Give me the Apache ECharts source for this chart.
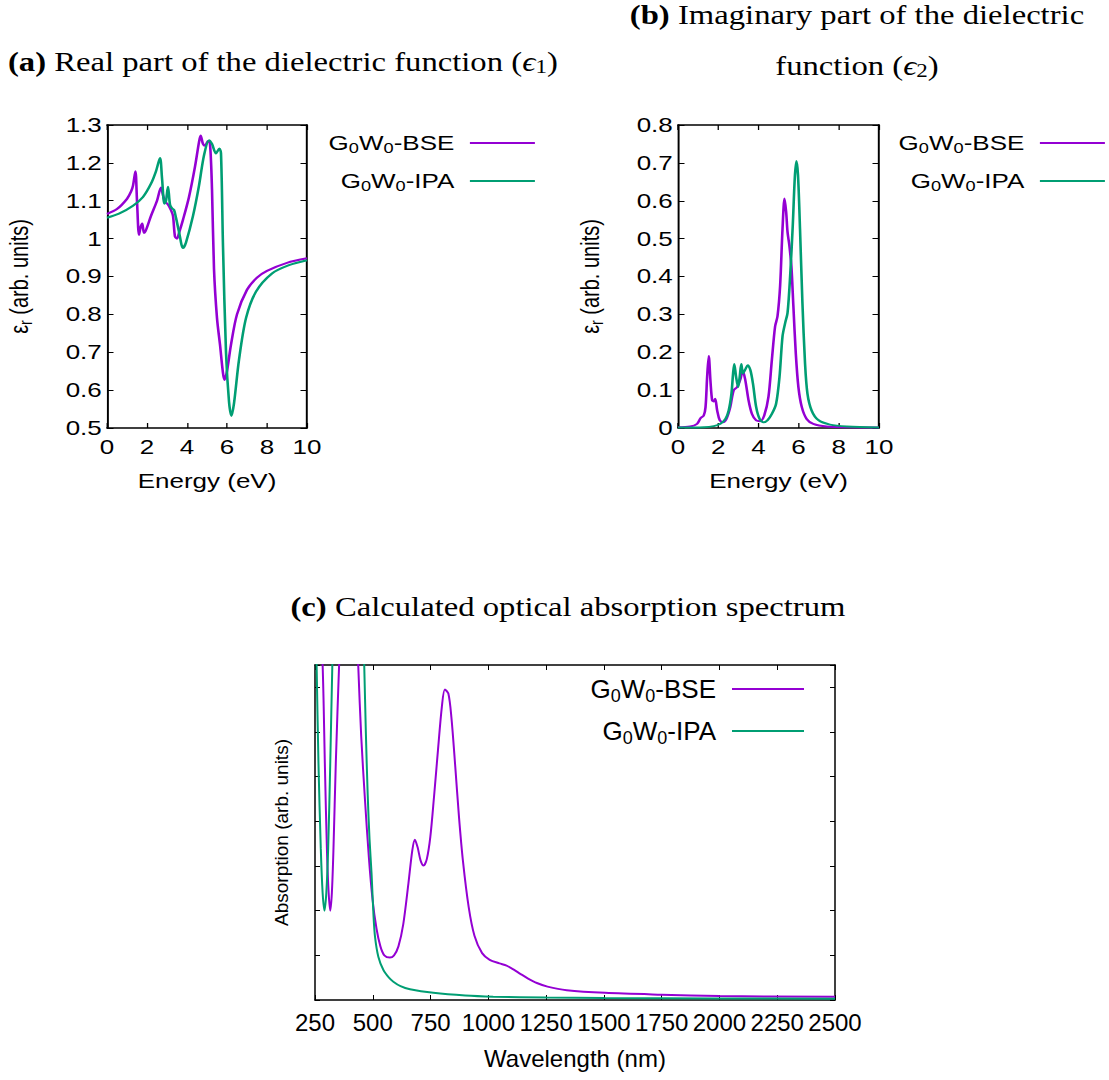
<!DOCTYPE html>
<html><head><meta charset="utf-8">
<script src="https://cdn.jsdelivr.net/npm/echarts@6/dist/echarts.min.js"></script>
<style>
html,body{margin:0;padding:0;background:#fff;}
#bottom{position:absolute;left:0;top:0;width:1109px;height:1080px;}
#top{position:absolute;left:0;top:0;height:520px;transform-origin:0 0;}
</style></head><body>
<div id="bottom"></div><div id="top"></div>
<script>
// ---------------- DATA ----------------
const seriesNames = ['G0W0-BSE', 'G0W0-IPA'];
const seriesColors = ['#9400D3', '#009E73'];

// (a) real part of dielectric function
const energyA_BSE = [0, 0.5, 1.0, 1.2, 1.3, 1.42, 1.5, 1.6, 1.68, 1.76, 1.85, 1.93, 2.2, 2.5, 2.7, 2.8, 2.9, 3.05, 3.2, 3.3, 3.4, 3.5, 3.6, 3.8, 4.1, 4.4, 4.6, 4.68, 4.8, 4.9, 5.05, 5.15, 5.25, 5.35, 5.5, 5.65, 5.8, 5.88, 6.0, 6.2, 6.5, 7.0, 7.5, 8.0, 9.0, 10];
const eps1_BSE = [1.065, 1.078, 1.105, 1.124, 1.14, 1.178, 1.10, 1.01, 1.03, 1.04, 1.015, 1.02, 1.06, 1.10, 1.135, 1.115, 1.098, 1.09, 1.075, 1.06, 1.005, 1.0, 1.015, 1.05, 1.11, 1.19, 1.255, 1.272, 1.25, 1.245, 1.258, 1.25, 1.13, 0.92, 0.79, 0.72, 0.645, 0.627, 0.65, 0.72, 0.80, 0.865, 0.897, 0.915, 0.936, 0.948];
const energyA_IPA = [0, 0.6, 1.3, 1.8, 2.2, 2.45, 2.65, 2.75, 2.87, 2.95, 3.05, 3.15, 3.25, 3.35, 3.45, 3.6, 3.8, 3.95, 4.3, 4.6, 4.85, 5.1, 5.25, 5.45, 5.62, 5.7, 5.8, 5.95, 6.1, 6.22, 6.35, 6.6, 6.95, 7.45, 8.25, 9.1, 10];
const eps1_IPA = [1.055, 1.066, 1.087, 1.11, 1.145, 1.178, 1.213, 1.16, 1.092, 1.10, 1.137, 1.09, 1.08, 1.076, 1.055, 1.018, 0.975, 0.99, 1.06, 1.14, 1.22, 1.26, 1.25, 1.225, 1.238, 1.225, 0.98, 0.70, 0.57, 0.532, 0.565, 0.68, 0.79, 0.86, 0.908, 0.93, 0.943];

// (b) imaginary part of dielectric function
const energyB_BSE = [0, 0.6, 0.95, 1.12, 1.28, 1.37, 1.45, 1.53, 1.62, 1.7, 1.78, 1.85, 1.95, 2.08, 2.24, 2.41, 2.6, 2.77, 2.94, 3.1, 3.22, 3.35, 3.51, 3.68, 3.89, 4.09, 4.29, 4.5, 4.67, 4.83, 4.95, 5.08, 5.2, 5.3, 5.38, 5.45, 5.54, 5.64, 5.74, 5.86, 5.99, 6.16, 6.4, 6.73, 7.4, 8.5, 10];
const eps2_BSE = [0.002, 0.004, 0.011, 0.026, 0.033, 0.055, 0.135, 0.19, 0.12, 0.073, 0.07, 0.077, 0.046, 0.02, 0.015, 0.024, 0.055, 0.1, 0.108, 0.128, 0.152, 0.126, 0.073, 0.037, 0.02, 0.018, 0.033, 0.082, 0.18, 0.268, 0.295, 0.375, 0.526, 0.606, 0.571, 0.517, 0.482, 0.428, 0.322, 0.197, 0.108, 0.055, 0.024, 0.011, 0.004, 0.002, 0.001];
const energyB_IPA = [0, 1.3, 1.78, 2.11, 2.36, 2.52, 2.66, 2.74, 2.8, 2.89, 2.99, 3.07, 3.15, 3.23, 3.35, 3.47, 3.6, 3.73, 3.89, 4.06, 4.26, 4.46, 4.67, 4.88, 5.05, 5.2, 5.33, 5.45, 5.58, 5.71, 5.81, 5.89, 5.97, 6.07, 6.19, 6.32, 6.44, 6.65, 6.98, 7.56, 8.4, 10];
const eps2_IPA = [0.001, 0.002, 0.005, 0.011, 0.024, 0.046, 0.091, 0.144, 0.169, 0.135, 0.108, 0.135, 0.169, 0.144, 0.155, 0.166, 0.153, 0.117, 0.055, 0.024, 0.015, 0.021, 0.037, 0.064, 0.135, 0.242, 0.277, 0.304, 0.402, 0.535, 0.66, 0.705, 0.668, 0.526, 0.331, 0.171, 0.091, 0.046, 0.021, 0.009, 0.004, 0.001];

// (c) optical absorption spectrum (arb. units; values above the frame are clipped)
const wavelength_BSE = [250, 265, 283, 293, 302, 309, 316, 323, 330, 340, 355, 370, 400, 420, 437, 450, 466, 483, 499, 516, 533, 550, 574, 592, 611, 632, 654, 671, 682, 694, 707, 720, 734, 749, 765, 782, 799, 812, 827, 840, 857, 873, 890, 915, 940, 973, 1006, 1048, 1079, 1110, 1140, 1172, 1210, 1256, 1339, 1505, 1750, 2000, 2500];
const absorption_BSE = [11, 9.5, 7.5, 5.2, 3.3, 2.4, 2.0, 2.4, 3.4, 5.3, 7.6, 9.5, 11, 10, 7.5, 5.9, 4.5, 3.2, 2.25, 1.6, 1.2, 1.0, 0.95, 1.0, 1.2, 1.7, 2.6, 3.35, 3.59, 3.42, 3.12, 3.01, 3.16, 3.65, 4.55, 5.59, 6.57, 6.95, 6.86, 6.34, 5.22, 4.1, 3.12, 2.08, 1.44, 1.05, 0.9, 0.82, 0.77, 0.68, 0.58, 0.48, 0.38, 0.3, 0.22, 0.16, 0.12, 0.09, 0.07];
const wavelength_IPA = [250, 257, 265, 275, 283, 291, 299, 307, 316, 325, 340, 400, 450, 463, 470, 478, 486, 495, 503, 510, 524, 546, 570, 589, 620, 661, 762, 900, 1021, 1250, 1500, 2000, 2500];
const absorption_IPA = [9.5, 7.5, 5.3, 3.4, 2.4, 2.0, 2.4, 3.4, 5.3, 7.5, 10.5, 12, 10, 7.5, 6.0, 4.6, 3.6, 2.8, 1.9, 1.4, 0.97, 0.67, 0.5, 0.41, 0.31, 0.24, 0.16, 0.1, 0.075, 0.055, 0.045, 0.035, 0.03];

// tick values
const energyTicks = [0, 2, 4, 6, 8, 10];
const eps1Ticks = [0.5, 0.6, 0.7, 0.8, 0.9, 1.0, 1.1, 1.2, 1.3];
const eps2Ticks = [0, 0.1, 0.2, 0.3, 0.4, 0.5, 0.6, 0.7, 0.8];
const wavelengthTicks = [250, 500, 750, 1000, 1250, 1500, 1750, 2000, 2250, 2500];
const absorptionTicks = [0, 1, 2, 3, 4, 5, 6, 7];
const absorptionMax = 7.5;

// ---------------- HELPERS ----------------
const STRETCH = 1.3;           // panels (a),(b) are horizontally stretched in the reference
const W1 = 1109 / STRETCH;
const sx = v => v / STRETCH;
const FONT = '"Liberation Sans", Arial, sans-serif';
const SERIF = '"Liberation Serif", "Times New Roman", serif';

const pairs = (xs, ys) => xs.map((x, i) => [x, ys[i]]);
const step = t => +(t[1] - t[0]).toFixed(6);

function axisPair(kind, gridIndex, ticks, o) {
  const base = {
    gridIndex, type: 'value', min: ticks[0], max: (o.max !== undefined ? o.max : ticks[ticks.length - 1]),
    interval: step(ticks),
    axisLine: { show: true, onZero: false, lineStyle: { color: '#000', width: 1.5 } },
    axisTick: { show: true, inside: true, length: o.tickLen || 5, lineStyle: { color: '#000', width: 1 } },
    splitLine: { show: false }
  };
  const main = Object.assign({}, base, {
    position: kind === 'x' ? 'bottom' : 'left',
    axisLabel: o.labels === false ? { show: false } :
      { show: true, color: '#000', fontFamily: FONT, fontSize: o.fs, margin: o.margin,
        showMinLabel: true, showMaxLabel: true, hideOverlap: false,
        formatter: v => String(+v.toFixed(6)) },
    name: o.name, nameLocation: 'middle', nameGap: o.nameGap,
    nameTextStyle: { color: '#000', fontFamily: FONT, fontSize: o.nameFs, rich: o.nameRich }
  });
  const mirror = Object.assign({}, base, {
    position: kind === 'x' ? 'top' : 'right', axisLabel: { show: false }, name: ''
  });
  return [main, mirror];
}

function lineSeries(i, data, xi, yi) {
  return {
    type: 'line', name: seriesNames[i], data, xAxisIndex: xi, yAxisIndex: yi,
    symbol: 'none', smooth: 0.3, clip: true, animation: false, z: 3,
    lineStyle: { color: seriesColors[i], width: 2 }, itemStyle: { color: seriesColors[i] }
  };
}

// subscript rich styles: sub baseline lowered by `drop` px
function subRich(fs, drop, family, lineFactor) {
  const L = Math.round(fs * (lineFactor || 1.2));
  const f2 = Math.round(fs * 0.7);
  const l2 = L - 2 * drop - 0.7 * (fs - f2);
  return {
    n: { color: '#000', fontFamily: family, fontSize: fs, lineHeight: L },
    s: { color: '#000', fontFamily: family, fontSize: f2, lineHeight: l2, verticalAlign: 'bottom' },
    L
  };
}

function legendItem(i, right, top, fs, iconW, gap, drop) {
  const r = subRich(fs, drop, FONT);
  return {
    show: true, data: [seriesNames[i]], orient: 'vertical', right, top, align: 'right',
    padding: 0, itemGap: 0, itemWidth: iconW, itemHeight: 2, icon: 'rect', selectedMode: false,
    formatter: n => '{n|G}{s|0}{n|W}{s|0}{n|' + n.slice(4) + '}{g| }',
    textStyle: {
      color: '#000', fontFamily: FONT, fontSize: fs,
      rich: { n: r.n, s: r.s, g: { width: gap, fontSize: fs, lineHeight: r.L } }
    }
  };
}

const epsR = subRich(20, 3.5, FONT);
const epsNameRich = { n: epsR.n, s: epsR.s };

// ---------------- TOP CHART: panels (a) and (b) ----------------
const topEl = document.getElementById('top');
topEl.style.width = W1 + 'px';
topEl.style.transform = 'scaleX(' + STRETCH + ')';
const chart1 = echarts.init(topEl, null, { renderer: 'svg' });

const gridA = { left: sx(107), top: 125, width: sx(200), height: 303 };
const gridB = { left: sx(678), top: 125, width: sx(201), height: 303 };

const xA = axisPair('x', 0, energyTicks, { fs: 20, margin: 9, name: 'Energy (eV)', nameGap: 43, nameFs: 20 });
const yA = axisPair('y', 0, eps1Ticks, { fs: 20, margin: 4, name: '{n|ε}{s|r}{n| (arb. units)}', nameGap: 56, nameFs: 20, nameRich: epsNameRich });
const xB = axisPair('x', 1, energyTicks, { fs: 20, margin: 9, name: 'Energy (eV)', nameGap: 43, nameFs: 20 });
const yB = axisPair('y', 1, eps2Ticks, { fs: 20, margin: 4, name: '{n|ε}{s|r}{n| (arb. units)}', nameGap: 56, nameFs: 20, nameRich: epsNameRich });

chart1.setOption({
  backgroundColor: 'transparent',
  animation: false,
  grid: [gridA, gridB],
  xAxis: [xA[0], xA[1], xB[0], xB[1]],
  yAxis: [yA[0], yA[1], yB[0], yB[1]],
  legend: [
    legendItem(0, W1 - sx(535), 133, 20, sx(65), 7, 3.5),
    legendItem(1, W1 - sx(535), 171, 20, sx(65), 7, 3.5),
    legendItem(0, W1 - sx(1105), 133, 20, sx(65), 7, 3.5),
    legendItem(1, W1 - sx(1105), 171, 20, sx(65), 7, 3.5)
  ],
  series: [
    lineSeries(0, pairs(energyA_BSE, eps1_BSE), 0, 0),
    lineSeries(1, pairs(energyA_IPA, eps1_IPA), 0, 0),
    lineSeries(0, pairs(energyB_BSE, eps2_BSE), 2, 2),
    lineSeries(1, pairs(energyB_IPA, eps2_IPA), 2, 2)
  ]
});

// ---------------- BOTTOM CHART: panel (c) + captions ----------------
const chart2 = echarts.init(document.getElementById('bottom'), null, { renderer: 'svg' });
const TFS = 27;
const TSCALE = 1.21;
const tr = subRich(TFS, 4, SERIF, 1.04);
const titleRich = {
  b: { fill: '#000', fontFamily: SERIF, fontSize: TFS, fontWeight: 'bold', lineHeight: tr.L },
  e: { fill: '#000', fontFamily: SERIF, fontSize: TFS, fontStyle: 'italic', lineHeight: tr.L },
  s: { fill: '#000', fontFamily: SERIF, fontSize: tr.s.fontSize, lineHeight: tr.s.lineHeight, verticalAlign: 'bottom' }
};
function caption(text, x, y, align) {
  return {
    type: 'text', x, y, scaleX: TSCALE, silent: true,
    style: {
      text, fill: '#000', fontFamily: SERIF, fontSize: TFS, lineHeight: tr.L,
      align, textAlign: align, verticalAlign: 'middle', textVerticalAlign: 'middle', rich: titleRich
    }
  };
}

const xC = axisPair('x', 0, wavelengthTicks, { fs: 24, margin: 10, name: 'Wavelength (nm)', nameGap: 46, nameFs: 24 });
const yC = axisPair('y', 0, absorptionTicks, { max: absorptionMax, labels: false, name: 'Absorption (arb. units)', nameGap: 24, nameFs: 19 });

chart2.setOption({
  backgroundColor: 'transparent',
  animation: false,
  grid: [{ left: 315, top: 665, width: 520, height: 335 }],
  xAxis: xC,
  yAxis: yC,
  legend: [
    legendItem(0, 1109 - 804, 676, 26, 72, 11, 4.5),
    legendItem(1, 1109 - 804, 718, 26, 72, 11, 4.5)
  ],
  graphic: [
    caption('{b|(a)} Real part of the dielectric function ({e|ϵ}{s|1})', 8, 62, 'left'),
    caption('{b|(b)} Imaginary part of the dielectric', 857, 15, 'center'),
    caption('function ({e|ϵ}{s|2})', 857, 66, 'center'),
    caption('{b|(c)} Calculated optical absorption spectrum', 568, 607, 'center')
  ],
  series: [
    lineSeries(0, pairs(wavelength_BSE, absorption_BSE), 0, 0),
    lineSeries(1, pairs(wavelength_IPA, absorption_IPA), 0, 0)
  ]
});
</script>
</body></html>
